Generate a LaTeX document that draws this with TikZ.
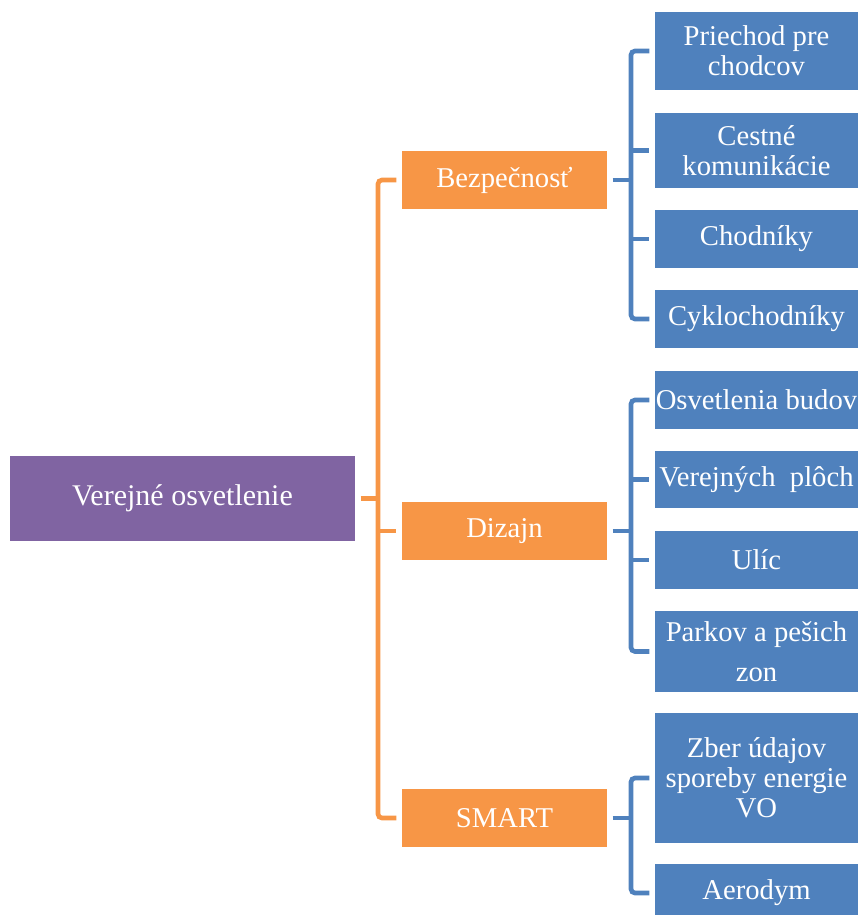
\documentclass[tikz,border=0pt]{standalone}
\usepackage{fontspec}
\setmainfont{Liberation Serif}

\definecolor{vopurple}{HTML}{8064A2}
\definecolor{voorange}{HTML}{F79646}
\definecolor{voblue}{HTML}{4F81BD}

\tikzset{
	box/.style={text=white, inner sep=0pt, align=center,
		font=\fontsize{21.5}{22.5}\selectfont},
	root/.style={box, fill=vopurple, minimum width=258.75pt, minimum height=63.75pt,
		font=\fontsize{22.5}{23.5}\selectfont},
	branch/.style={box, fill=voorange, minimum width=153.75pt, minimum height=43.5pt},
	leaf/.style={box, fill=voblue, minimum width=152.25pt, minimum height=43.5pt},
	oline/.style={voorange, line width=3.5pt, rounded corners=3pt},
	bline/.style={voblue, line width=3.5pt, rounded corners=3pt}
}

\begin{document}
\begin{tikzpicture}[x=0.75pt, y=-0.75pt]
	\useasboundingbox (0,0) rectangle (861,915);
	
	% root and branches
	\node[root] (verejne) at (182.5,498.5) {Verejné osvetlenie};
	\node[branch] (bezpecnost) at (504.5,180) {Bezpečnosť};
	\node[branch] (dizajn) at (504.5,531) {Dizajn};
	\node[branch] (smart) at (504.5,818) {SMART};
	
	% leaves
	\node[leaf, minimum height=58.5pt] (priechod) at (756.5,51) {Priechod pre\\chodcov};
	\node[leaf, minimum height=56.25pt] (cestne) at (756.5,150.5) {Cestné\\komunikácie};
	\node[leaf] (chodniky) at (756.5,239) {Chodníky};
	\node[leaf] (cyklo) at (756.5,319) {Cyklochodníky};
	\node[leaf] (budovy) at (756.5,400) {Osvetlenia budov};
	\node[leaf, minimum height=42.75pt] (plochy) at (756.5,479.5) {Verejných\ \ plôch};
	\node[leaf] (ulice) at (756.5,560) {Ulíc};
	\node[leaf, minimum height=60.75pt] (parky) at (756.5,651.5) {Parkov a pešich\\[7pt]zon};
	\node[leaf, minimum height=97.5pt] (zber) at (756.5,778) {Zber údajov\\sporeby energie\\VO};
	\node[leaf] (aerodym) at (756.5,893) {Aerodym};
	
	\coordinate (obar) at (378,0);
	\coordinate (bbar) at (631,0);
	
	% orange connectors
	\draw[oline] ([xshift=-4pt]bezpecnost.west) -| (obar |- dizajn.west)
		|- ([xshift=-4pt]smart.west);
	\draw[oline] ([xshift=4pt]verejne.east) -- (obar |- verejne.east);
	\draw[oline] (obar |- dizajn.west) -- ([xshift=-4pt]dizajn.west);
	
	% blue connectors
	\draw[bline] ([xshift=-4pt]priechod.west) -| (bbar |- chodniky.west)
		|- ([xshift=-4pt]cyklo.west);
	\draw[bline] ([xshift=4pt]bezpecnost.east) -- (bbar |- bezpecnost.east);
	\draw[bline] (bbar |- cestne.west) -- ([xshift=-4pt]cestne.west);
	\draw[bline] (bbar |- chodniky.west) -- ([xshift=-4pt]chodniky.west);
	
	\draw[bline] ([xshift=-4pt]budovy.west) -| (bbar |- ulice.west)
		|- ([xshift=-4pt]parky.west);
	\draw[bline] ([xshift=4pt]dizajn.east) -- (bbar |- dizajn.east);
	\draw[bline] (bbar |- plochy.west) -- ([xshift=-4pt]plochy.west);
	\draw[bline] (bbar |- ulice.west) -- ([xshift=-4pt]ulice.west);
	
	\draw[bline] ([xshift=-4pt]zber.west) -| (bbar |- smart.east)
		|- ([xshift=-4pt]aerodym.west);
	\draw[bline] ([xshift=4pt]smart.east) -- (bbar |- smart.east);
\end{tikzpicture}
\end{document}
